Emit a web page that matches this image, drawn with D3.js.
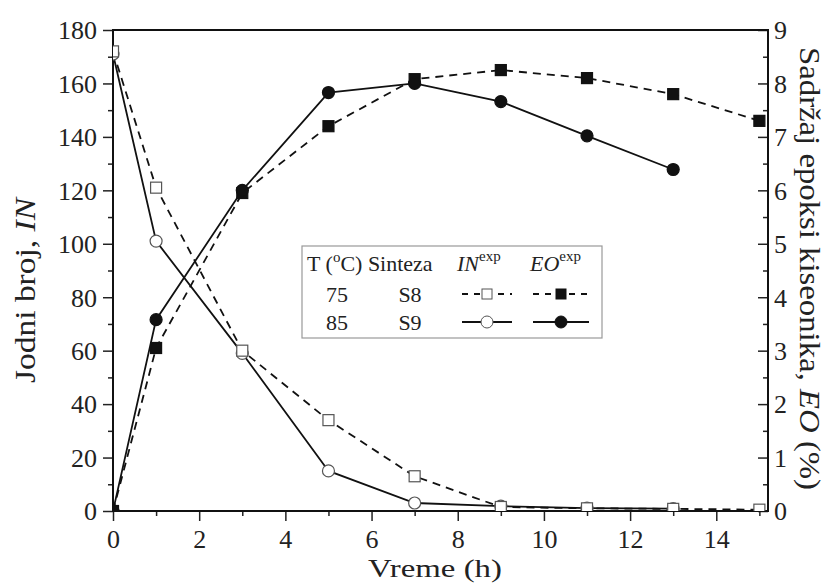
<!DOCTYPE html>
<html lang="sr">
<head>
    <meta charset="UTF-8">
    <title>Jodni broj i EO</title>
    <script src="https://cdn.jsdelivr.net/npm/d3@7/dist/d3.min.js"></script>
    <style>
        body { margin: 0; background: #fff; }
        svg { font-family: "Liberation Serif", "Times New Roman", Times, serif; }
        .axis text { font-family: "Liberation Serif", "Times New Roman", Times, serif; font-size: 26px; fill: #222; }
        .axis path { display: none; }
        .axis line { stroke: #222; stroke-width: 1.5; }
    </style>
</head>
<body>
    <svg width="829" height="588"></svg>

    <script>
        // time (h)
        var time = [0, 1, 3, 5, 7, 9, 11, 13, 15];
        // iodine number, IN
        var inS8 = [172, 121, 60, 34, 13, 1.5, 1, 0.8, 0.5];
        var inS9 = [171, 101, 59, 15, 3, 1.8, 1.1, 0.9];
        // epoxy oxygen, EO (%)
        var eoS8 = [0, 3.05, 5.95, 7.2, 8.08, 8.25, 8.1, 7.8, 7.3];
        var eoS9 = [0, 3.58, 6.0, 7.83, 8.0, 7.66, 7.02, 6.39];

        var xTicks = [0, 2, 4, 6, 8, 10, 12, 14];
        var xMinor = [1, 3, 5, 7, 9, 11, 13, 15];
        var yLeftTicks = d3.range(0, 181, 20);
        var yLeftMinor = d3.range(10, 180, 20);
        var yRightTicks = d3.range(0, 10, 1);
        var yRightMinor = d3.range(0.5, 9, 1);

        var svg = d3.select("svg");
        var m = { left: 113, right: 768, top: 30, bottom: 511 };

        var x = d3.scaleLinear().domain([0, 15.2]).range([m.left, m.right]);
        var yL = d3.scaleLinear().domain([0, 180]).range([m.bottom, m.top]);
        var yR = d3.scaleLinear().domain([0, 9]).range([m.bottom, m.top]);

        // axes
        svg.append("g").attr("class", "axis")
            .attr("transform", `translate(0,${m.bottom})`)
            .call(d3.axisBottom(x).tickValues(xTicks).tickSize(10).tickPadding(9).tickFormat(d3.format("d")));
        svg.append("g").attr("class", "axis")
            .attr("transform", `translate(0,${m.bottom})`)
            .call(d3.axisBottom(x).tickValues(xMinor).tickSize(5).tickFormat(""));

        svg.append("g").attr("class", "axis")
            .attr("transform", `translate(${m.left},0)`)
            .call(d3.axisLeft(yL).tickValues(yLeftTicks).tickSize(10).tickPadding(6))
            .selectAll("text").attr("dy", "0.34em");
        svg.append("g").attr("class", "axis")
            .attr("transform", `translate(${m.left},0)`)
            .call(d3.axisLeft(yL).tickValues(yLeftMinor).tickSize(5).tickFormat(""));

        svg.append("g").attr("class", "axis")
            .attr("transform", `translate(${m.right},0)`)
            .call(d3.axisRight(yR).tickValues(yRightTicks).tickSize(-10).tickPadding(6))
            .selectAll("text").attr("dy", "0.34em");
        svg.append("g").attr("class", "axis")
            .attr("transform", `translate(${m.right},0)`)
            .call(d3.axisRight(yR).tickValues(yRightMinor).tickSize(-5).tickFormat(""));

        // frame
        svg.append("rect")
            .attr("x", m.left).attr("y", m.top)
            .attr("width", m.right - m.left).attr("height", m.bottom - m.top)
            .attr("fill", "none").attr("stroke", "#111").attr("stroke-width", 2);

        svg.append("clipPath").attr("id", "plot")
            .append("rect")
            .attr("x", m.left).attr("y", m.top)
            .attr("width", m.right - m.left).attr("height", m.bottom - m.top);

        var plot = svg.append("g").attr("clip-path", "url(#plot)");

        function series(vals, yScale) {
            return vals.map((v, i) => [x(time[i]), yScale(v)]);
        }

        var line = d3.line();
        var lines = [
            { pts: series(inS8, yL), dash: "8,6" },
            { pts: series(eoS8, yR), dash: "8,6" },
            { pts: series(inS9, yL), dash: null },
            { pts: series(eoS9, yR), dash: null }
        ];
        lines.forEach(s => {
            plot.append("path")
                .attr("d", line(s.pts))
                .attr("fill", "none")
                .attr("stroke", "#111")
                .attr("stroke-width", 1.8)
                .attr("stroke-dasharray", s.dash);
        });

        function squares(g, pts, fill, stroke) {
            g.selectAll(null).data(pts).enter().append("rect")
                .attr("x", d => d[0] - 5.5).attr("y", d => d[1] - 5.5)
                .attr("width", 11).attr("height", 11)
                .attr("fill", fill).attr("stroke", stroke).attr("stroke-width", 1.2);
        }
        function circles(g, pts, fill, stroke) {
            g.selectAll(null).data(pts).enter().append("circle")
                .attr("cx", d => d[0]).attr("cy", d => d[1]).attr("r", 6)
                .attr("fill", fill).attr("stroke", stroke).attr("stroke-width", 1.2);
        }

        squares(plot.append("g"), series(eoS8, yR), "#111", "#111");
        circles(plot.append("g"), series(eoS9, yR), "#111", "#111");
        circles(plot.append("g"), series(inS9, yL), "#fff", "#555");
        squares(plot.append("g"), series(inS8, yL), "#fff", "#555");

        // axis titles
        svg.append("text")
            .attr("x", 368).attr("y", 577)
            .attr("font-size", 26).attr("fill", "#222")
            .attr("textLength", 134).attr("lengthAdjust", "spacingAndGlyphs")
            .text("Vreme (h)");

        var tl = svg.append("text")
            .attr("transform", "translate(35,383) rotate(-90)")
            .attr("font-size", 30).attr("fill", "#222")
            .attr("textLength", 185).attr("lengthAdjust", "spacingAndGlyphs");
        tl.append("tspan").text("Jodni broj, ");
        tl.append("tspan").attr("font-style", "italic").text("IN");

        var tr = svg.append("text")
            .attr("transform", "translate(800,47) rotate(90)")
            .attr("font-size", 30).attr("fill", "#222")
            .attr("textLength", 443).attr("lengthAdjust", "spacingAndGlyphs");
        tr.append("tspan").text("Sadržaj epoksi kiseonika, ");
        tr.append("tspan").attr("font-style", "italic").text("EO");
        tr.append("tspan").text(" (%)");

        // legend
        var lg = svg.append("g").attr("font-size", 22).attr("fill", "#222");
        lg.append("rect")
            .attr("x", 302).attr("y", 246).attr("width", 300).attr("height", 92)
            .attr("fill", "#fff").attr("stroke", "#999").attr("stroke-width", 1.2);

        var h = lg.append("text").attr("x", 307).attr("y", 271);
        h.append("tspan").text("T (");
        h.append("tspan").attr("font-size", 15).attr("dy", -9).text("o");
        h.append("tspan").attr("dy", 9).text("C) Sinteza");
        var hin = lg.append("text").attr("x", 457).attr("y", 271);
        hin.append("tspan").attr("font-style", "italic").text("IN");
        hin.append("tspan").attr("font-size", 15).attr("dy", -10).text("exp");
        var heo = lg.append("text").attr("x", 530).attr("y", 271);
        heo.append("tspan").attr("font-style", "italic").text("EO");
        heo.append("tspan").attr("font-size", 15).attr("dy", -10).text("exp");

        var rows = [
            { t: "75", s: "S8", y: 294, dash: "6,6" },
            { t: "85", s: "S9", y: 322, dash: null }
        ];
        rows.forEach((r, i) => {
            lg.append("text").attr("x", 337).attr("y", r.y + 8).attr("text-anchor", "middle").text(r.t);
            lg.append("text").attr("x", 410).attr("y", r.y + 8).attr("text-anchor", "middle").text(r.s);
            [[462, 512, 487], [533, 589, 561]].forEach((seg, j) => {
                lg.append("line")
                    .attr("x1", seg[0]).attr("x2", seg[1]).attr("y1", r.y).attr("y2", r.y)
                    .attr("stroke", "#111").attr("stroke-width", 1.8)
                    .attr("stroke-dasharray", r.dash);
                var filled = j === 1;
                if (i === 0) {
                    lg.append("rect")
                        .attr("x", seg[2] - 5).attr("y", r.y - 5).attr("width", 10).attr("height", 10)
                        .attr("fill", filled ? "#111" : "#fff").attr("stroke", filled ? "#111" : "#555");
                } else {
                    lg.append("circle")
                        .attr("cx", seg[2]).attr("cy", r.y).attr("r", 6)
                        .attr("fill", filled ? "#111" : "#fff").attr("stroke", filled ? "#111" : "#555");
                }
            });
        });
    </script>
</body>
</html>
